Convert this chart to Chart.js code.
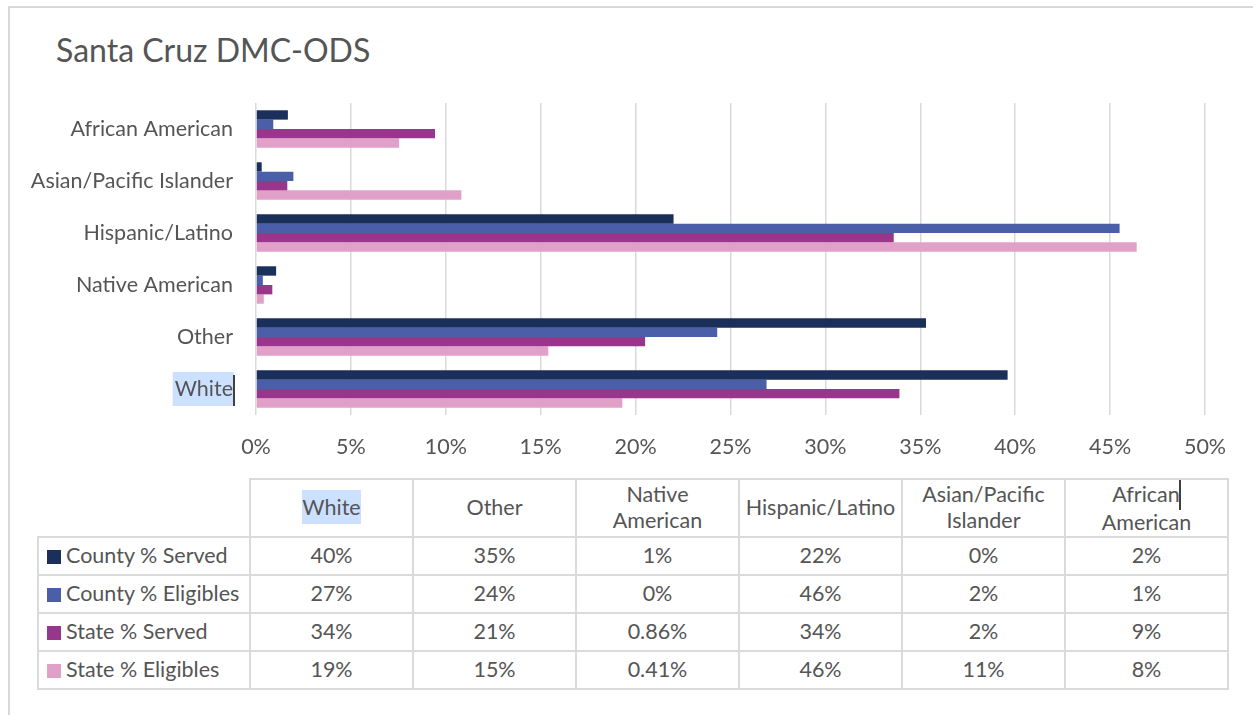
<!DOCTYPE html>
<html>
<head>
<meta charset="utf-8">
<script src="https://cdn.jsdelivr.net/npm/chart.js@4/dist/chart.umd.min.js"></script>
<style>
  body { margin: 0; background: #fff; font-family: Lato, sans-serif; overflow: hidden; }
  #frame { position: absolute; left: 8px; top: 6px; width: 1400px; height: 900px;
           border-top: 2px solid #d9d9d9; border-left: 2px solid #d9d9d9; }
  #title { position: absolute; left: 56px; top: 31px; line-height: 38px; font-size: 32px; color: #555; }
  #chartBox { position: absolute; left: 0; top: 0; width: 1253px; height: 470px; }
  #dataTable { position: absolute; left: 37px; top: 478px; border-collapse: collapse;
               table-layout: fixed; color: #555; font-size: 21.5px; }
  #dataTable td { border: 2px solid #dadada; text-align: center; padding: 0; height: 36px; line-height: 1.2; }
  #dataTable tr.head td { height: 56px; white-space: pre-line; }
  #dataTable td.corner { border-top: none; border-left: none; }
  #dataTable td.legend { text-align: left; padding-left: 8px; white-space: nowrap; }
  .swatch { display: inline-block; width: 14px; height: 14px; margin-right: 5px; vertical-align: -1px; }
  .hl { background: #cce0ff; padding: 4px 0; }
  .caret { display: inline-block; width: 2px; height: 30px; background: #404040; vertical-align: -8px; margin-left: -1px; }
</style>
</head>
<body>
<div id="frame"></div>
<div id="title">Santa Cruz DMC-ODS</div>
<div id="chartBox"><canvas id="ethChart"></canvas></div>
<table id="dataTable"></table>
<script>
// categories in the order of the data table (the chart shows them reversed)
const categories = ['White', 'Other', 'Native American', 'Hispanic/Latino', 'Asian/Pacific Islander', 'African American'];
const headerLabels = ['White', 'Other', 'Native\nAmerican', 'Hispanic/Latino', 'Asian/Pacific\nIslander', 'African\nAmerican'];

const seriesNames = ['County % Served', 'County % Eligibles', 'State % Served', 'State % Eligibles'];
const seriesColors = ['#1b2f5b', '#4a5fa8', '#97368a', '#e0a0c8'];

// percentages
const countyServed    = [39.6, 35.3, 1.06, 22.0, 0.3, 1.68];
const countyEligibles = [26.9, 24.3, 0.36, 45.5, 1.97, 0.91];
const stateServed     = [33.9, 20.5, 0.86, 33.6, 1.65, 9.43];
const stateEligibles  = [19.3, 15.4, 0.41, 46.4, 10.82, 7.54];

// what the data table prints
const countyServedText    = ['40%', '35%', '1%', '22%', '0%', '2%'];
const countyEligiblesText = ['27%', '24%', '0%', '46%', '2%', '1%'];
const stateServedText     = ['34%', '21%', '0.86%', '34%', '2%', '9%'];
const stateEligiblesText  = ['19%', '15%', '0.41%', '46%', '11%', '8%'];

const xTicks = [0, 5, 10, 15, 20, 25, 30, 35, 40, 45, 50];

const seriesValues = [countyServed, countyEligibles, stateServed, stateEligibles];
const seriesText = [countyServedText, countyEligiblesText, stateServedText, stateEligiblesText];

const FONT = 'Lato, sans-serif';
const TEXT = '#555';
const Y_PAD = 23;
const TICK_SIZE = 21.5;

// selection highlight + caret around the "White" axis label
const selectionMark = {
  id: 'selectionMark',
  beforeDraw(chart) {
    const y = chart.scales.y;
    const ctx = chart.ctx;
    ctx.save();
    ctx.font = TICK_SIZE + 'px ' + FONT;
    const w = ctx.measureText('White').width;
    const cy = y.getPixelForValue(0);
    const right = chart.chartArea.left - Y_PAD;
    ctx.fillStyle = '#cce0ff';
    ctx.fillRect(right - w - 2, cy - 17, w + 3, 34);
    ctx.fillStyle = '#404040';
    ctx.fillRect(right, cy - 14, 2, 31);
    ctx.restore();
  }
};

new Chart(document.getElementById('ethChart'), {
  type: 'bar',
  data: {
    labels: categories,
    datasets: seriesNames.map((name, i) => ({
      label: name,
      data: seriesValues[i],
      backgroundColor: seriesColors[i],
      categoryPercentage: 0.72,
      barPercentage: 1.0
    }))
  },
  options: {
    indexAxis: 'y',
    responsive: true,
    maintainAspectRatio: false,
    animation: false,
    layout: { padding: { left: 10, right: 48, top: 103, bottom: 0 } },
    plugins: {
      legend: { display: false },
      tooltip: { enabled: false },
      title: { display: false }
    },
    scales: {
      x: {
        min: 0,
        max: 50,
        afterBuildTicks: scale => { scale.ticks = xTicks.map(v => ({ value: v })); },
        afterFit: scale => { scale.height = 55; },
        grid: { color: '#d9d9d9', lineWidth: 1.5, drawTicks: false },
        border: { display: false },
        ticks: {
          padding: 19,
          color: TEXT,
          font: { family: FONT, size: TICK_SIZE },
          callback: v => v + '%'
        }
      },
      y: {
        reverse: true,
        afterFit: scale => { scale.width = 256 - 10; },
        grid: { display: false, drawTicks: false },
        border: { display: false },
        ticks: {
          padding: Y_PAD,
          color: TEXT,
          font: { family: FONT, size: TICK_SIZE }
        }
      }
    }
  },
  plugins: [selectionMark]
});

// data table under the chart
const table = document.getElementById('dataTable');
let html = '<colgroup><col style="width:212px">' + categories.map(() => '<col style="width:163px">').join('') + '</colgroup>';
html += '<tr class="head"><td class="corner"></td>' + headerLabels.map((h, i) => {
  let t = h;
  if (i === 0) t = '<span class="hl">' + h + '</span>';
  if (i === headerLabels.length - 1) t = h.replace('\n', '<span class="caret"></span>\n');
  return '<td>' + t + '</td>';
}).join('') + '</tr>';
seriesNames.forEach((name, s) => {
  html += '<tr><td class="legend"><span class="swatch" style="background:' + seriesColors[s] + '"></span>' + name + '</td>' +
    seriesText[s].map(t => '<td>' + t + '</td>').join('') + '</tr>';
});
table.innerHTML = html;
</script>
</body>
</html>
